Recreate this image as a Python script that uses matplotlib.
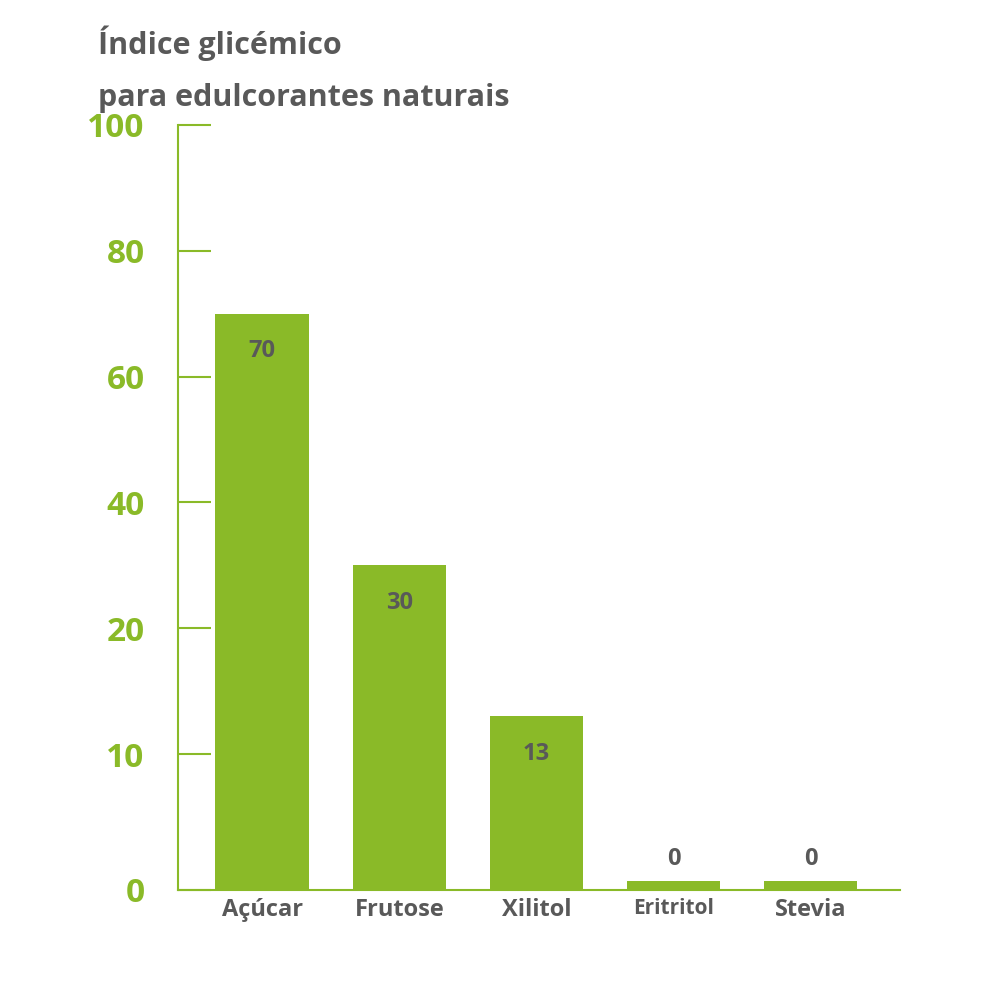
import matplotlib.pyplot as plt
import numpy as np

categories = ["Açúcar", "Frutose", "Xilitol", "Eritritol", "Stevia"]
values = [70, 30, 13, 0, 0]
tick_values = [0, 10, 20, 40, 60, 80, 100]

green = "#8aba28"
gray = "#595959"

# hand-drawn style axis: ticks evenly spaced though values are not
scale_pts = np.array([0, 1.08, 2.08, 3.08, 4.08, 5.08, 6.08])


def forward(v):
    return np.interp(v, tick_values, scale_pts)


def inverse(p):
    return np.interp(p, scale_pts, tick_values)


plt.rcParams["font.family"] = ["Open Sans", "DejaVu Sans"]
fig = plt.figure(figsize=(10, 10), dpi=100)
ax = fig.add_axes([0.178, 0.11, 0.722, 0.765])
ax.set_yscale("function", functions=(forward, inverse))

x = np.arange(len(categories))
heights = [v if v > 0 else 0.65 for v in values]
ax.bar(x, heights, width=0.68, color=green)

for xi, v, h in zip(x, values, heights):
    if v > 0:
        ax.text(xi, inverse(forward(h) - 0.3), str(v), ha="center", va="center",
                fontsize=17, fontweight="bold", color=gray)
    else:
        ax.text(xi, inverse(forward(h) + 0.18), str(v), ha="center", va="center",
                fontsize=17, fontweight="bold", color=gray)

ax.set_xlim(-0.613, 4.65)
ax.set_ylim(0, inverse(6.37))
ax.set_yticks(tick_values)
ax.set_yticklabels([str(t) for t in tick_values])
ax.tick_params(axis="y", direction="in", length=24, width=1.5, color=green,
               labelcolor=green, labelsize=24, pad=24)
for lab in ax.get_yticklabels():
    lab.set_fontweight("bold")
ax.set_xticks(x)
ax.set_xticklabels(categories)
ax.tick_params(axis="x", length=0, labelsize=17, labelcolor=gray, pad=6)
for i, lab in enumerate(ax.get_xticklabels()):
    lab.set_fontweight("bold")
    if categories[i] == "Eritritol":
        lab.set_fontsize(15)

for s in ["top", "right"]:
    ax.spines[s].set_visible(False)
for s in ["left", "bottom"]:
    ax.spines[s].set_color(green)
    ax.spines[s].set_linewidth(1.5)

fig.text(0.098, 0.957, "Índice glicémico", fontsize=22, fontweight="bold",
         color=gray, va="center")
fig.text(0.098, 0.902, "para edulcorantes naturais", fontsize=22,
         fontweight="bold", color=gray, va="center")

fig.savefig("out.png")
